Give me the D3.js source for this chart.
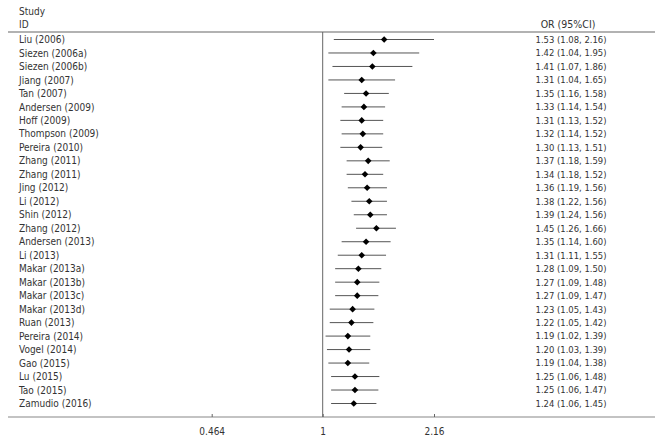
<!DOCTYPE html>
<html><head><meta charset="utf-8">
<script src="https://cdn.jsdelivr.net/npm/d3@7"></script>
<style>body{margin:0;background:#fff}svg{display:block}</style>
</head><body>
<script>
const studies = ["Liu (2006)","Siezen (2006a)","Siezen (2006b)","Jiang (2007)","Tan (2007)","Andersen (2009)","Hoff (2009)","Thompson (2009)","Pereira (2010)","Zhang (2011)","Zhang (2011)","Jing (2012)","Li (2012)","Shin (2012)","Zhang (2012)","Andersen (2013)","Li (2013)","Makar (2013a)","Makar (2013b)","Makar (2013c)","Makar (2013d)","Ruan (2013)","Pereira (2014)","Vogel (2014)","Gao (2015)","Lu (2015)","Tao (2015)","Zamudio (2016)"];
const orValues = [1.53,1.42,1.41,1.31,1.35,1.33,1.31,1.32,1.30,1.37,1.34,1.36,1.38,1.39,1.45,1.35,1.31,1.28,1.27,1.27,1.23,1.22,1.19,1.20,1.19,1.25,1.25,1.24];
const ciLow = [1.08,1.04,1.07,1.04,1.16,1.14,1.13,1.14,1.13,1.18,1.18,1.19,1.22,1.24,1.26,1.14,1.11,1.09,1.09,1.09,1.05,1.05,1.02,1.03,1.04,1.06,1.06,1.06];
const ciHigh = [2.16,1.95,1.86,1.65,1.58,1.54,1.52,1.52,1.51,1.59,1.52,1.56,1.56,1.56,1.66,1.60,1.55,1.50,1.48,1.47,1.43,1.42,1.39,1.39,1.38,1.48,1.47,1.45];
const tickValues = [0.464, 1, 2.16];
const tickLabels = ["0.464", "1", "2.16"];

const W = 666, H = 444;
const svg = d3.select("body").append("svg").attr("width", W).attr("height", H);
const rows = studies.map((s, i) => ({i, s, or: orValues[i], lo: ciLow[i], hi: ciHigh[i]}));

const x = d3.scaleLog().domain([0.464, 2.16]).range([211.7, 434]);
const y = d3.scalePoint().domain(d3.range(studies.length)).range([39.5, 403.5]);

const labelFont = "'DejaVu Sans Condensed','DejaVu Sans',sans-serif";
const textColor = "#333";

// header
svg.append("text").attr("x", 19).attr("y", 15).text("Study")
  .attr("font-family", labelFont).attr("font-size", 10).attr("fill", textColor);
svg.append("text").attr("x", 19).attr("y", 28).text("ID")
  .attr("font-family", labelFont).attr("font-size", 10).attr("fill", textColor);
svg.append("text").attr("x", 568).attr("y", 28).attr("text-anchor", "middle").text("OR (95%CI)")
  .attr("font-family", labelFont).attr("font-size", 10.5).attr("fill", textColor);

// rules
svg.append("line").attr("x1", 8).attr("x2", 655).attr("y1", 32).attr("y2", 32)
  .attr("stroke", "#999").attr("stroke-width", 1.5);
svg.append("line").attr("x1", 8).attr("x2", 655).attr("y1", 417).attr("y2", 417)
  .attr("stroke", "#888").attr("stroke-width", 1.2);

// null line
svg.append("line").attr("x1", x(1)).attr("x2", x(1)).attr("y1", 32).attr("y2", 417)
  .attr("stroke", "#666").attr("stroke-width", 1);

// axis
const axis = d3.axisBottom(x).tickValues(tickValues).tickFormat((d, i) => tickLabels[i])
  .tickSize(-3).tickSizeOuter(0).tickPadding(11);
const ag = svg.append("g").attr("transform", "translate(0,417)").call(axis);
ag.select(".domain").remove();
ag.selectAll(".tick line").attr("stroke", "#666");
ag.selectAll(".tick text").attr("font-family", labelFont).attr("font-size", 10).attr("fill", textColor);

// rows
const g = svg.append("g");
g.selectAll("text.lab").data(rows).join("text").attr("class", "lab")
  .attr("x", 19).attr("y", d => y(d.i)).attr("dy", "0.36em").text(d => d.s)
  .attr("font-family", labelFont).attr("font-size", 10).attr("fill", textColor);

g.selectAll("text.val").data(rows).join("text").attr("class", "val")
  .attr("x", 571).attr("y", d => y(d.i)).attr("dy", "0.36em").attr("text-anchor", "middle")
  .text(d => `${d.or.toFixed(2)} (${d.lo.toFixed(2)}, ${d.hi.toFixed(2)})`)
  .attr("font-family", labelFont).attr("font-size", 9.4).attr("fill", textColor);

g.selectAll("line.ci").data(rows).join("line").attr("class", "ci")
  .attr("x1", d => x(d.lo)).attr("x2", d => x(d.hi))
  .attr("y1", d => y(d.i)).attr("y2", d => y(d.i))
  .attr("stroke", "#555").attr("stroke-width", 1);

const s = 3.3;
g.selectAll("path.pt").data(rows).join("path").attr("class", "pt")
  .attr("d", d => { const cx = x(d.or), cy = y(d.i); return `M${cx},${cy - s}L${cx + s},${cy}L${cx},${cy + s}L${cx - s},${cy}Z`; })
  .attr("fill", "#000");
</script>
</body></html>
